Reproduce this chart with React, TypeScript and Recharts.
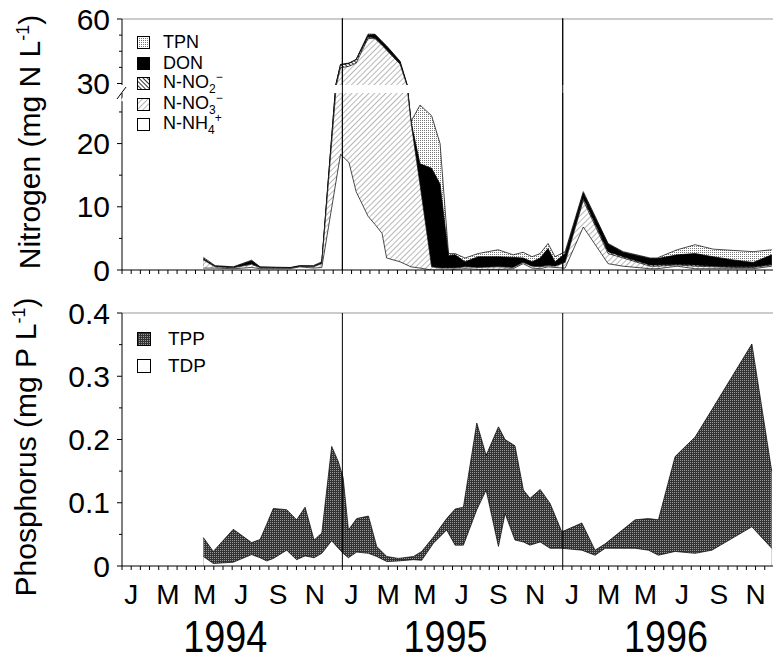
import React from 'react'
import { AreaChart, Area, XAxis, YAxis, ReferenceLine } from 'recharts'

// sampling dates as months since 1 Jan 1994
const nMonth = [4.43, 5.07, 6.06, 7.06, 7.52, 9.15, 9.69, 10.42, 10.88, 11.9, 12.36, 12.75, 13.4, 13.78, 14.16, 14.41, 15.14, 15.74, 16.23, 16.86, 17.32, 17.78, 18.14, 18.68, 19.39, 20.48, 21.3, 21.84, 22.33, 22.77, 23.2, 23.58, 24.13, 25.12, 26.47, 27.29, 28.76, 29.14, 30.23, 31.21, 32.19, 33.28, 34.37, 35.39]
// cumulative levels (mg N/L)
const nNH4 = [0.3, 0.3, 0.2, 0.4, 0.2, 0.2, 0.5, 0.3, 0.4, 18.3, 17.0, 12.4, 8.5, 7.2, 5.8, 1.9, 1.3, 0.5, 0.3, 0, 0, 0, 0.1, 0.2, 0.1, 0.1, 0.2, 1.0, 0.3, 0.2, 0.5, 0.4, 0.3, 6.8, 1.0, 0.6, 0.2, 0.2, 0.6, 0.2, 0.2, 0.2, 0.2, 0.6]
const nNH4NO3 = [1.6, 0.5, 0.35, 0.9, 0.35, 0.3, 0.55, 0.5, 1.0, 37.3, 38.0, 39.5, 51.0, 50.8, 47.8, 45.5, 39.0, 23.3, 13.5, 0.5, 0.3, 0.3, 0.3, 0.5, 0.4, 0.5, 0.4, 1.2, 0.6, 0.5, 0.7, 0.6, 1.2, 11.0, 2.6, 1.9, 0.6, 0.6, 0.8, 0.6, 0.5, 0.4, 0.4, 0.8]
const nInorganic = [1.7, 0.55, 0.4, 1.0, 0.4, 0.32, 0.6, 0.55, 1.1, 38.6, 39.3, 41.0, 51.7, 51.2, 48.0, 45.8, 39.3, 23.3, 13.6, 0.55, 0.35, 0.35, 0.35, 0.55, 0.45, 0.55, 0.45, 1.25, 0.65, 0.55, 0.8, 0.65, 1.3, 11.4, 2.9, 2.1, 0.8, 0.8, 0.9, 0.8, 0.6, 0.5, 0.5, 0.9]
const nDissolved = [1.8, 0.6, 0.45, 1.45, 0.45, 0.35, 0.65, 0.6, 1.2, 38.7, 39.4, 41.1, 52.5, 52.8, 49.4, 47.3, 40.2, 23.4, 16.8, 16.1, 13.6, 2.3, 2.4, 1.3, 2.1, 2.1, 2.0, 1.9, 1.3, 1.9, 3.4, 1.3, 2.6, 12.2, 4.1, 2.8, 1.8, 1.8, 2.4, 2.6, 2.1, 1.6, 1.2, 2.4]
const nTotal = [2.0, 0.7, 0.5, 1.55, 0.5, 0.4, 0.7, 0.7, 1.3, 38.9, 39.5, 41.2, 53.0, 52.9, 49.6, 47.5, 40.4, 23.5, 26.1, 24.4, 20.0, 2.6, 2.6, 1.9, 2.6, 3.2, 2.4, 2.8, 2.1, 2.6, 4.2, 2.1, 2.9, 12.4, 4.2, 2.9, 1.9, 1.9, 3.2, 4.0, 3.3, 3.1, 2.9, 3.2]

const pMonth = [4.43, 4.97, 6.06, 7.06, 7.52, 7.88, 8.24, 8.97, 9.51, 9.97, 10.46, 10.88, 11.42, 11.78, 12.04, 12.33, 12.78, 13.42, 13.87, 14.42, 15.05, 15.87, 16.32, 16.96, 17.68, 18.14, 18.59, 19.32, 19.83, 20.5, 20.86, 21.4, 21.86, 22.22, 22.77, 23.31, 23.95, 25.04, 25.76, 26.31, 27.94, 28.67, 29.21, 30.12, 31.21, 32.12, 34.3, 35.38]
const pTotal = [0.045, 0.023, 0.058, 0.037, 0.042, 0.066, 0.091, 0.089, 0.073, 0.093, 0.041, 0.052, 0.189, 0.165, 0.14, 0.057, 0.075, 0.079, 0.031, 0.015, 0.012, 0.015, 0.023, 0.046, 0.075, 0.09, 0.093, 0.226, 0.175, 0.22, 0.2, 0.19, 0.12, 0.107, 0.121, 0.099, 0.054, 0.068, 0.025, 0.035, 0.073, 0.075, 0.073, 0.173, 0.204, 0.247, 0.351, 0.15]
const pDissolved = [0.015, 0.004, 0.006, 0.018, 0.013, 0.008, 0.012, 0.025, 0.01, 0.016, 0.013, 0.02, 0.04, 0.028, 0.02, 0.013, 0.022, 0.02, 0.015, 0.007, 0.008, 0.01, 0.009, 0.036, 0.057, 0.033, 0.033, 0.089, 0.12, 0.031, 0.083, 0.041, 0.038, 0.033, 0.038, 0.028, 0.028, 0.025, 0.017, 0.028, 0.028, 0.025, 0.017, 0.023, 0.02, 0.025, 0.062, 0.028]

const monthLetters = ['J', 'F', 'M', 'A', 'M', 'J', 'J', 'A', 'S', 'O', 'N', 'D']
const years = ['1994', '1995', '1996']
const nLegend: [string, string, string, string][] = [
    ['url(#tpnDots)', 'TPN', '', ''],
    ['#000', 'DON', '', ''],
    ['url(#no2Hatch)', 'N-NO', '2', '\u2212'],
    ['url(#no3Hatch)', 'N-NO', '3', '\u2212'],
    ['#fff', 'N-NH', '4', '+'],
]
const pLegend: [string, string][] = [
    ['url(#tppDots)', 'TPP'],
    ['#fff', 'TDP'],
]

const FONT = "'Liberation Sans', Arial, Helvetica, sans-serif"
const X_DOMAIN: [number, number] = [0, 35.45]
const xTicks: number[] = []
for (let t = 0; t <= 35.4; t += 0.5) xTicks.push(t)

const nData = nMonth.map((m, i) => ({
    m,
    nh4: nNH4[i],
    nh4no3: nNH4NO3[i],
    din: nInorganic[i],
    tdn: nDissolved[i],
    tn: nTotal[i],
}))
const pData = pMonth.map((m, i) => ({ m, tp: pTotal[i], tdp: pDissolved[i] }))

const yTick = (major: number[], fmt: (v: number) => string) => (props: any) => {
    const { x, y, payload } = props
    const isMajor = major.some(v => Math.abs(v - payload.value) < 1e-6)
    return (
        <g>
            <line x1={x - (isMajor ? 5 : 3)} y1={y} x2={x} y2={y} stroke="#000" />
            {isMajor && (
                <text x={x - 12} y={y} dy={10.5} textAnchor="end" fontSize={30} fontFamily={FONT} fill="#000">
                    {fmt(payload.value)}
                </text>
            )}
        </g>
    )
}

const xTick = (labels: boolean) => (props: any) => {
    const { x, y, payload } = props
    const v = payload.value
    const mid = Math.abs(v - Math.round(v)) > 0.01
    const mi = Math.floor(v) % 12
    return (
        <g>
            <line x1={x} y1={y} x2={x} y2={y + 4} stroke="#000" />
            {labels && mid && mi % 2 === 0 && (
                <text x={x} y={y + 38} textAnchor="middle" fontSize={28} fontFamily={FONT} fill="#000">
                    {monthLetters[mi]}
                </text>
            )}
            {labels && !mid && mi === 6 && (
                <text x={x - 7} y={y + 86} textAnchor="middle" fontSize={44} fontFamily={FONT} fill="#000"
                    textLength={84} lengthAdjust="spacingAndGlyphs">
                    {years[Math.floor(v / 12)]}
                </text>
            )}
        </g>
    )
}

// drawn back to front: each level covers the ones above it
const nAreas = [
    ['tn', 'url(#tpnDots)'],
    ['tdn', '#000'],
    ['din', 'url(#no2Hatch)'],
    ['nh4no3', 'url(#no3Hatch)'],
    ['nh4', '#fff'],
]

export default function App() {
    const margin = { left: 62, right: 3 }
    return (
        <div style={{ position: 'absolute', left: 0, top: 0, width: 776, height: 668, background: '#fff', fontFamily: FONT }}>
            <svg width={0} height={0} style={{ position: 'absolute' }}>
                <defs>
                    <pattern id="tpnDots" width={2} height={2} patternUnits="userSpaceOnUse">
                        <rect width={2} height={2} fill="#fff" />
                        <rect width={1} height={1} fill="#777" />
                    </pattern>
                    <pattern id="no3Hatch" width={4} height={4} patternUnits="userSpaceOnUse" patternTransform="rotate(45)">
                        <rect width={4} height={4} fill="#fff" />
                        <line x1={0} y1={0} x2={0} y2={4} stroke="#888" strokeWidth={1.2} />
                    </pattern>
                    <pattern id="no2Hatch" width={3} height={3} patternUnits="userSpaceOnUse" patternTransform="rotate(-45)">
                        <rect width={3} height={3} fill="#fff" />
                        <line x1={0} y1={0} x2={0} y2={3} stroke="#000" strokeWidth={1.6} />
                    </pattern>
                    <pattern id="tppDots" width={2} height={2} patternUnits="userSpaceOnUse">
                        <rect width={2} height={2} fill="#333" />
                        <rect width={1} height={1} fill="#999" />
                    </pattern>
                </defs>
            </svg>

            {/* nitrogen, lower section of the broken axis */}
            <div style={{ position: 'absolute', left: 0, top: 88 }}>
                <AreaChart width={776} height={200} data={nData} margin={{ ...margin, top: 5, bottom: 10 }}>
                    <XAxis
                        dataKey="m"
                        type="number"
                        domain={X_DOMAIN}
                        allowDataOverflow
                        ticks={xTicks}
                        interval={0}
                        height={8}
                        tickSize={0}
                        tickMargin={0}
                        tickLine={false}
                        axisLine={{ stroke: '#000' }}
                        tick={xTick(false)}
                    />
                    <YAxis
                        width={60}
                        domain={[0, 28]}
                        allowDataOverflow
                        ticks={[0, 5, 10, 15, 20, 25]}
                        interval={0}
                        tickSize={0}
                        tickMargin={0}
                        tickLine={false}
                        axisLine={{ stroke: '#000' }}
                        tick={yTick([0, 10, 20], v => String(v))}
                    />
                    {nAreas.map(([k, f]) => (
                        <Area key={k} type="linear" dataKey={k} stroke="#000" strokeWidth={0.7} fill={f} fillOpacity={1} dot={false} activeDot={false} isAnimationActive={false} />
                    ))}
                    <ReferenceLine x={12} stroke="#000" />
                    <ReferenceLine x={24} stroke="#000" />
                </AreaChart>
            </div>

            {/* nitrogen, upper section */}
            <div style={{ position: 'absolute', left: 0, top: 0 }}>
                <AreaChart width={776} height={100} data={nData} margin={{ ...margin, top: 19, bottom: 15 }}>
                    <XAxis dataKey="m" type="number" domain={X_DOMAIN} allowDataOverflow hide />
                    <YAxis
                        width={60}
                        domain={[29.3, 60]}
                        allowDataOverflow
                        ticks={[30, 37.5, 45, 52.5, 60]}
                        interval={0}
                        tickSize={0}
                        tickMargin={0}
                        tickLine={false}
                        axisLine={{ stroke: '#000' }}
                        tick={yTick([30, 60], v => String(v))}
                    />
                    <ReferenceLine y={60} stroke="#999" />
                    {nAreas.map(([k, f]) => (
                        <Area key={k} type="linear" dataKey={k} stroke="#000" strokeWidth={0.7} fill={f} fillOpacity={1} dot={false} activeDot={false} isAnimationActive={false} />
                    ))}
                    <ReferenceLine x={12} stroke="#000" />
                    <ReferenceLine x={24} stroke="#000" />
                </AreaChart>
            </div>

            {/* year separators bridging the axis break (hidden y axis takes no width) */}
            <div style={{ position: 'absolute', left: 0, top: 0 }}>
                <AreaChart width={776} height={290} data={nData} margin={{ left: 122, right: 3, top: 18, bottom: 20 }}>
                    <XAxis dataKey="m" type="number" domain={X_DOMAIN} allowDataOverflow hide />
                    <YAxis domain={[0, 100]} hide />
                    <Area type="linear" dataKey="tn" stroke="none" fill="none" dot={false} activeDot={false} isAnimationActive={false} />
                    <ReferenceLine x={12} stroke="#000" />
                    <ReferenceLine x={24} stroke="#000" />
                </AreaChart>
            </div>
            <svg width={20} height={20} style={{ position: 'absolute', left: 114, top: 83 }}>
                <line x1={3} y1={16} x2={12} y2={4} stroke="#000" />
                <line x1={8} y1={18} x2={13} y2={11} stroke="#fff" strokeWidth={3} />
            </svg>

            {/* phosphorus */}
            <div style={{ position: 'absolute', left: 0, top: 290 }}>
                <AreaChart width={776} height={378} data={pData} margin={{ ...margin, top: 23, bottom: 62 }}>
                    <XAxis
                        dataKey="m"
                        type="number"
                        domain={X_DOMAIN}
                        allowDataOverflow
                        ticks={xTicks}
                        interval={0}
                        height={40}
                        tickSize={0}
                        tickMargin={0}
                        tickLine={false}
                        axisLine={{ stroke: '#000' }}
                        tick={xTick(true)}
                    />
                    <YAxis
                        width={60}
                        domain={[0, 0.4]}
                        ticks={[0, 0.05, 0.1, 0.15, 0.2, 0.25, 0.3, 0.35, 0.4]}
                        interval={0}
                        tickSize={0}
                        tickMargin={0}
                        tickLine={false}
                        axisLine={{ stroke: '#000' }}
                        tick={yTick([0, 0.1, 0.2, 0.3, 0.4], v => (v === 0 ? '0' : v.toFixed(1)))}
                    />
                    <ReferenceLine y={0.4} stroke="#999" />
                    <Area type="linear" dataKey="tp" name="TPP" stroke="#000" strokeWidth={0.7} fill="url(#tppDots)" fillOpacity={1} dot={false} activeDot={false} isAnimationActive={false} />
                    <Area type="linear" dataKey="tdp" name="TDP" stroke="#000" strokeWidth={0.7} fill="#fff" fillOpacity={1} dot={false} activeDot={false} isAnimationActive={false} />
                    <ReferenceLine x={12} stroke="#000" />
                    <ReferenceLine x={24} stroke="#000" />
                </AreaChart>
            </div>

            {/* axis titles */}
            <svg width={60} height={668} style={{ position: 'absolute', left: 0, top: 0 }}>
                <text transform="translate(40,142) rotate(-90)" textAnchor="middle" fontSize={30} fontFamily={FONT} fill="#000">
                    Nitrogen (mg N L<tspan dy={-11} fontSize={18}>-1</tspan><tspan dy={11}>)</tspan>
                </text>
                <text transform="translate(36,447) rotate(-90)" textAnchor="middle" fontSize={30} fontFamily={FONT} fill="#000">
                    Phosphorus (mg P L<tspan dy={-11} fontSize={18}>-1</tspan><tspan dy={11}>)</tspan>
                </text>
            </svg>

            {/* legends */}
            {nLegend.map(([fill, main, sub, sup], i) => (
                <div key={main + sub} style={{ position: 'absolute', left: 137, top: 36 + i * 20.5, height: 13, display: 'flex', alignItems: 'center' }}>
                    <svg width={13} height={13}>
                        <rect x={0.5} y={0.5} width={12} height={12} fill={fill} stroke="#000" />
                    </svg>
                    <span style={{ marginLeft: 13, fontSize: 18, lineHeight: '13px', whiteSpace: 'nowrap' }}>
                        {main}
                        {sub && <sub style={{ fontSize: 12 }}>{sub}</sub>}
                        {sup && <sup style={{ fontSize: 12 }}>{sup}</sup>}
                    </span>
                </div>
            ))}
            {pLegend.map(([fill, name], i) => (
                <div key={name} style={{ position: 'absolute', left: 137, top: 332 + i * 26.5, height: 14, display: 'flex', alignItems: 'center' }}>
                    <svg width={14} height={14}>
                        <rect x={0.5} y={0.5} width={13} height={13} fill={fill} stroke="#000" />
                    </svg>
                    <span style={{ marginLeft: 17, fontSize: 19, lineHeight: '14px' }}>{name}</span>
                </div>
            ))}
        </div>
    )
}
